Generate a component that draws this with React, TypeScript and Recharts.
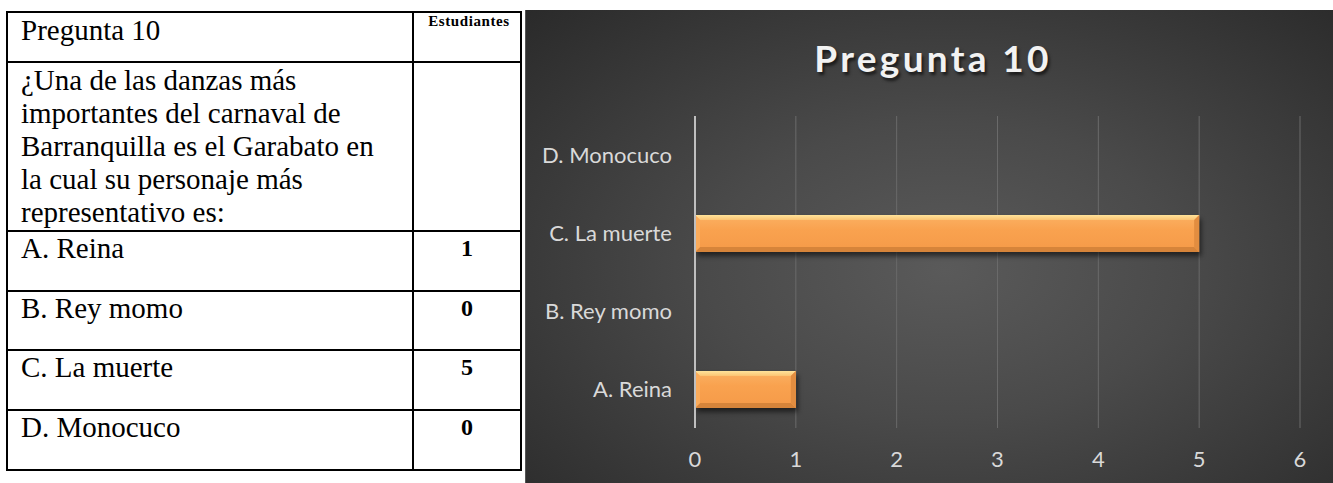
import React from "react";
import { BarChart, Bar, XAxis, YAxis, CartesianGrid } from "recharts";

const chartTitle = "Pregunta 10";
const categories = ["A. Reina", "B. Rey momo", "C. La muerte", "D. Monocuco"];
const estudiantes = [1, 0, 5, 0];
const xTicks = [0, 1, 2, 3, 4, 5, 6];
const columnHeader = "Estudiantes";
const questionLines = [
  "¿Una de las danzas más",
  "importantes del carnaval de",
  "Barranquilla es el Garabato en",
  "la cual su personaje más",
  "representativo es:",
];

const data = categories.map((name, i) => ({ name, value: estudiantes[i] }));

const serif = '"Liberation Serif", "Times New Roman", Times, serif';
const sans = 'Lato, "Open Sans", "Noto Sans", sans-serif';

const BevelBar = (props: any) => {
  const { x, y, width, height, index } = props;
  if (!width || width <= 0) return null;
  const b = 5;
  const id = `bb${index}`;
  return (
    <g>
      <defs>
        <linearGradient id={`${id}body`} x1="0" y1="0" x2="0" y2="1">
          <stop offset="0%" stopColor="#fbb163" />
          <stop offset="40%" stopColor="#f9a24f" />
          <stop offset="100%" stopColor="#f59a48" />
        </linearGradient>
        <linearGradient id={`${id}top`} x1="0" y1="0" x2="0" y2="1">
          <stop offset="0%" stopColor="#ffe39a" />
          <stop offset="100%" stopColor="#fcc473" />
        </linearGradient>
        <filter id={`${id}sh`} x="-10%" y="-50%" width="120%" height="200%">
          <feGaussianBlur stdDeviation="2.5" />
        </filter>
      </defs>
      <rect x={x + 2} y={y + 4} width={width} height={height} fill="#000" opacity={0.55} filter={`url(#${id}sh)`} />
      <rect x={x} y={y} width={width} height={height} fill={`url(#${id}body)`} />
      <polygon
        points={`${x},${y} ${x + width},${y} ${x + width - b},${y + b} ${x + b},${y + b}`}
        fill={`url(#${id}top)`}
      />
      <polygon
        points={`${x},${y + height} ${x + width},${y + height} ${x + width - b},${y + height - b} ${x + b},${y + height - b}`}
        fill="#d6843a"
      />
      <polygon
        points={`${x + width},${y} ${x + width},${y + height} ${x + width - b},${y + height - b} ${x + width - b},${y + b}`}
        fill="#e28d40"
      />
      <polygon
        points={`${x},${y} ${x},${y + height} ${x + b},${y + height - b} ${x + b},${y + b}`}
        fill="#fbab5a"
      />
    </g>
  );
};

const cellBase: React.CSSProperties = {
  background: "#fff",
  fontFamily: serif,
  color: "#000",
  whiteSpace: "nowrap",
  overflow: "hidden",
};

function Table() {
  return (
    <div
      style={{
        position: "absolute",
        left: 6,
        top: 11,
        width: 516,
        height: 460,
        boxSizing: "border-box",
        padding: 2,
        background: "#000",
        display: "grid",
        gridTemplateColumns: "404px 106px",
        gridTemplateRows: "48px 167px 58px 57px 58px 58px",
        columnGap: 2,
        rowGap: 2,
      }}
    >
      <div style={{ ...cellBase, fontSize: 29, lineHeight: "33px", paddingLeft: 13, paddingTop: 1 }}>
        {chartTitle}
      </div>
      <div
        style={{
          ...cellBase,
          fontSize: 15,
          fontWeight: "bold",
          lineHeight: "17px",
          textAlign: "center",
          letterSpacing: 0.6,
          paddingLeft: 4,
        }}
      >
        {columnHeader}
      </div>
      <div style={{ ...cellBase, fontSize: 29, lineHeight: "33px", paddingLeft: 13, paddingTop: 1 }}>
        {questionLines.map((l, i) => (
          <div key={i}>{l}</div>
        ))}
      </div>
      <div style={cellBase} />
      {categories.map((c, i) => (
        <React.Fragment key={c}>
          <div style={{ ...cellBase, fontSize: 29, lineHeight: "33px", paddingLeft: 13 }}>{c}</div>
          <div
            style={{
              ...cellBase,
              fontSize: 24,
              fontWeight: "bold",
              lineHeight: "33px",
              textAlign: "center",
            }}
          >
            {estudiantes[i]}
          </div>
        </React.Fragment>
      ))}
    </div>
  );
}

export default function App() {
  return (
    <div style={{ position: "absolute", left: 0, top: 0, width: 1333, height: 483 }}>
      <Table />
      <div
        style={{
          position: "absolute",
          left: 525,
          top: 10,
          width: 808,
          height: 473,
          boxSizing: "border-box",
          borderLeft: "1px solid #555",
          background:
            "radial-gradient(ellipse farthest-corner at 52% 55%, #5a5a5a 0%, #4a4a4a 40%, #2a2a2a 100%)",
          overflow: "hidden",
        }}
      >
        <div
          style={{
            position: "absolute",
            left: 0,
            top: 26,
            width: 808,
            textAlign: "center",
            fontFamily: sans,
            fontWeight: 700,
            fontSize: 37,
            lineHeight: "44px",
            letterSpacing: 3.3,
            color: "#f2f2f2",
            textShadow: "2px 3px 3px rgba(0,0,0,0.6)",
            paddingLeft: 6,
            boxSizing: "border-box",
          }}
        >
          {chartTitle}
        </div>
        <div style={{ position: "absolute", left: -1, top: 0 }}>
          <BarChart
            width={808}
            height={473}
            data={data}
            layout="vertical"
            margin={{ top: 106, right: 33, bottom: 0, left: 0 }}
          >
            <CartesianGrid horizontal={false} stroke="#6a6a6a" strokeWidth={1} />
            <XAxis
              type="number"
              domain={[0, 6]}
              ticks={xTicks}
              axisLine={false}
              tickLine={false}
              tickSize={0}
              tickMargin={23}
              height={55}
              interval={0}
              tick={{ fill: "#d9d9d9", fontSize: 22, fontFamily: sans }}
            />
            <YAxis
              type="category"
              dataKey="name"
              reversed
              width={170}
              axisLine={{ stroke: "#bfbfbf", strokeWidth: 2 }}
              tickLine={false}
              tickSize={0}
              tickMargin={23}
              interval={0}
              tick={{ fill: "#d9d9d9", fontSize: 22, fontFamily: sans }}
            />
            <Bar dataKey="value" barSize={37} shape={BevelBar} isAnimationActive={false} />
          </BarChart>
        </div>
      </div>
    </div>
  );
}
